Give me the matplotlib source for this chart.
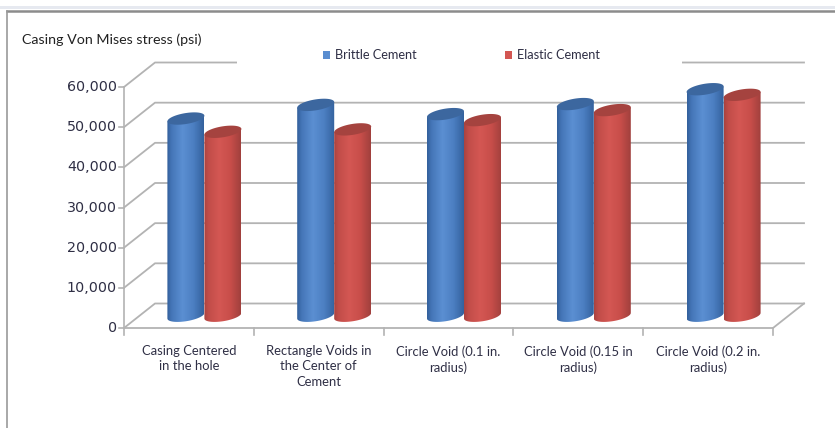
import numpy as np
import matplotlib
matplotlib.use("Agg")
import matplotlib.pyplot as plt
from matplotlib.path import Path
from matplotlib.patches import PathPatch, Rectangle
from matplotlib.lines import Line2D
from matplotlib.colors import LinearSegmentedColormap

# ================================ Data ================================
categories = [
    "Casing Centered\nin the hole",
    "Rectangle Voids in\nthe Center of\nCement",
    "Circle Void (0.1 in.\nradius)",
    "Circle Void (0.15 in\nradius)",
    "Circle Void (0.2 in.\nradius)",
]
brittle = [49100, 52500, 50200, 52700, 56400]
elastic = [45800, 46400, 48700, 51200, 55000]
series_names = ["Brittle Cement", "Elastic Cement"]
y_ticks = [0, 10000, 20000, 30000, 40000, 50000, 60000]

# ============================== Layout ================================
W, H = 835, 428
PX_CAT = 129.8              # pixels per category on the front floor edge
PX_PSI = 241.0 / 60000      # pixels per psi
X0_PX, Y0_PX = 124, 328     # front-left floor corner (pixels from top-left)

DX = 31 / PX_CAT            # depth offset of the back wall, category units
DY = 24.5 / PX_PSI          # depth offset of the back wall, psi units
R = 18.5 / PX_CAT           # cylinder radius
B = 5.5 / PX_PSI            # half height of the end ellipses
T = 2.8 / PX_PSI            # tilt of the end ellipses


def px_x(px):
    return (px - X0_PX) / PX_CAT


def px_y(py):
    return (Y0_PX - py) / PX_PSI


grid_col = "#b3b3b3"
text_col = "#2f2f45"

fig = plt.figure(figsize=(W / 100, H / 100), dpi=100)
ax = fig.add_axes([0, 0, 1, 1])
ax.axis("off")

# back wall, side wall and floor gridlines
n = len(categories)
for v in y_ticks:
    ax.plot([0, DX, n + DX], [v, v + DY, v + DY], color=grid_col, lw=1.3, zorder=1)
    ax.plot([px_x(119), 0], [v, v], color=grid_col, lw=1.2, zorder=1)
ax.plot([0, 0], [0, y_ticks[-1]], color=grid_col, lw=1.2, zorder=1)
ax.plot([0, n, n + DX], [0, 0, DY], color=grid_col, lw=1.3, zorder=1)
for i in range(n + 1):
    ax.plot([i, i], [0, px_y(335)], color=grid_col, lw=1.2, zorder=1)

# white legend area over the top gridline
ax.add_patch(Rectangle((px_x(237), px_y(75)), px_x(682) - px_x(237),
                       px_y(42) - px_y(75), facecolor="white",
                       edgecolor="none", zorder=2))

blue_cmap = LinearSegmentedColormap.from_list(
    "blue_cyl", [(0, "#33609c"), (0.12, "#4576b8"), (0.42, "#5b8fd2"),
                 (0.72, "#4c7fc2"), (1, "#34629e")])
red_cmap = LinearSegmentedColormap.from_list(
    "red_cyl", [(0, "#aa4340"), (0.12, "#c24d49"), (0.42, "#d45753"),
                (0.72, "#c84e4a"), (1, "#a1403d")])
top_cols = ["#3c679f", "#a5433f"]
cmaps = [blue_cmap, red_cmap]


def cylinder(cx, base, top, cmap, top_col):
    t_low = np.linspace(np.pi, 2 * np.pi, 40)
    xs = [cx - R, cx - R]
    ys = [top - T, base - T]
    xs += list(cx + R * np.cos(t_low))
    ys += list(base + B * np.sin(t_low) + T * np.cos(t_low))
    xs += [cx + R, cx - R]
    ys += [top + T, top - T]
    body = PathPatch(Path(np.column_stack([xs, ys])), facecolor="none",
                     edgecolor="none")
    ax.add_patch(body)
    grad = np.linspace(0, 1, 64).reshape(1, -1)
    im = ax.imshow(grad, cmap=cmap, aspect="auto", interpolation="bilinear",
                   extent=[cx - R, cx + R, base - B - T, top + B + T], zorder=3)
    im.set_clip_path(body)
    t = np.linspace(0, 2 * np.pi, 80)
    cap = np.column_stack([cx + R * np.cos(t),
                           top + B * np.sin(t) + T * np.cos(t)])
    ax.add_patch(PathPatch(Path(cap), facecolor=top_col, edgecolor="none",
                           zorder=4))


for s, vals in enumerate([brittle, elastic]):
    for i, v in enumerate(vals):
        cx = i + 0.5 + DX / 2 + (s - 0.5) * 2 * R
        cylinder(cx, DY / 2, v + DY / 2, cmaps[s], top_cols[s])

# axis labels
for v in y_ticks:
    ax.text(px_x(117), v, f"{v:,}", ha="right", va="center",
            fontsize=10.3, color=text_col, family="DejaVu Sans")
for i, lab in enumerate(categories):
    ax.text(i + 0.5, px_y(345), lab, ha="center", va="top", fontsize=9.4,
            color=text_col, family="Lato", linespacing=1.35)

ax.text(px_x(22), px_y(40), "Casing Von Mises stress (psi)", ha="left",
        va="center", fontsize=10.3, color="#222222", family="Lato")

# legend
for s, name in enumerate(series_names):
    lx = [323, 505][s]
    ax.add_patch(Rectangle((px_x(lx), px_y(59)), px_x(lx + 7) - px_x(lx),
                           px_y(51) - px_y(59), facecolor=cmaps[s](0.4),
                           edgecolor="none", zorder=5))
    ax.text(px_x(lx + 12), px_y(55), name, ha="left", va="center",
            fontsize=9.2, color=text_col, family="Lato", zorder=5)

ax.set_xlim(px_x(0), px_x(W))
ax.set_ylim(px_y(H), px_y(0))

# outer chart frame
fig.add_artist(Rectangle((0, 1 - 9 / H), 1, 3 / H, transform=fig.transFigure,
                         facecolor="#e6e9f0", edgecolor="none"))
fig.add_artist(Line2D([7 / W, 1], [1 - 10.5 / H, 1 - 10.5 / H],
                      transform=fig.transFigure, color="#8c8c8c", lw=1.8))
fig.add_artist(Line2D([7 / W, 7 / W], [0, 1 - 10.5 / H],
                      transform=fig.transFigure, color="#9a9a9a", lw=1.2))

fig.savefig("out.png", dpi=100)
